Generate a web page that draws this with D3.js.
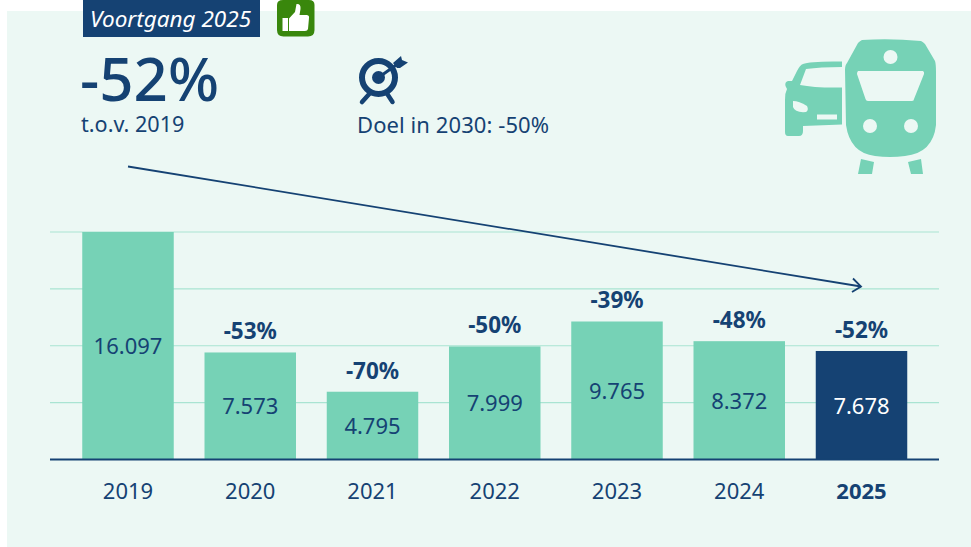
<!DOCTYPE html>
<html><head><meta charset="utf-8">
<style>html,body{margin:0;padding:0;background:#fff}svg{display:block}text{font-family:"Noto Sans",sans-serif}</style>
<script src="https://cdn.jsdelivr.net/npm/d3@7/dist/d3.min.js"></script></head>
<body><svg id="c" width="971" height="547"></svg>
<script>
const years=["2019","2020","2021","2022","2023","2024","2025"];
const values=[16097,7573,4795,7999,9765,8372,7678];
const valueLabels=["16.097","7.573","4.795","7.999","9.765","8.372","7.678"];
const changes=[null,"-53%","-70%","-50%","-39%","-48%","-52%"];
const gridTicks=[0,4024,8048,12073,16097];
const navy="#154273",mint="#76d2b6",bg="#ecf8f4",gridC="#a9e4d2";
const svg=d3.select("#c");
svg.append("rect").attr("x",7).attr("y",11).attr("width",964).attr("height",536).attr("fill",bg);
const x=d3.scalePoint().domain(years).range([128,861.5]);
const y=d3.scaleLinear().domain([0,16097]).range([459.5,232]);
const bw=91.5;
const cx=d=>x(d);
svg.append("g").selectAll("line").data(gridTicks.slice(1)).join("line")
 .attr("x1",50).attr("x2",939).attr("y1",d=>y(d)).attr("y2",d=>y(d)).attr("stroke",gridC).attr("stroke-width",1.2);
svg.append("g").selectAll("rect").data(years).join("rect")
 .attr("x",d=>cx(d)-bw/2).attr("width",bw).attr("y",(d,i)=>y(values[i])).attr("height",(d,i)=>y(0)-y(values[i]))
 .attr("fill",(d,i)=>i==6?navy:mint);
svg.append("line").attr("x1",50).attr("x2",939).attr("y1",459.5).attr("y2",459.5).attr("stroke",navy).attr("stroke-width",2);
svg.append("g").selectAll("text").data(years).join("text").attr("x",cx).attr("y",499).attr("text-anchor","middle")
 .attr("font-size",22).attr("fill",navy).attr("font-weight",(d,i)=>i==6?700:400).text(d=>d);
svg.append("g").selectAll("text").data(years).join("text").attr("x",cx)
 .attr("y",(d,i)=>(y(values[i])+y(0))/2+8.5).attr("text-anchor","middle").attr("font-size",22)
 .attr("fill",(d,i)=>i==6?"#fff":navy).text((d,i)=>valueLabels[i]);
svg.append("g").selectAll("text").data(years.slice(1)).join("text").attr("x",cx)
 .attr("y",(d,i)=>y(values[i+1])-13).attr("text-anchor","middle").attr("font-size",22.5).attr("font-weight",700)
 .attr("fill",navy).text((d,i)=>changes[i+1]);
// header
svg.append("rect").attr("x",83).attr("y",0).attr("width",177).attr("height",37).attr("fill",navy);
svg.append("text").attr("x",90).attr("y",27).attr("font-size",22.5).attr("font-style","italic").attr("fill","#fff").text("Voortgang 2025");
svg.append("text").attr("x",80).attr("y",101).attr("font-size",60).attr("font-weight",500).attr("fill",navy).text("-52%");
svg.append("text").attr("x",81).attr("y",132).attr("font-size",21.6).attr("fill",navy).text("t.o.v. 2019");
svg.append("text").attr("x",357).attr("y",133).attr("font-size",22).attr("letter-spacing",0.08).attr("fill",navy).text("Doel in 2030: -50%");
// trend arrow
svg.append("line").attr("x1",128).attr("y1",166.5).attr("x2",861).attr("y2",286.5).attr("stroke",navy).attr("stroke-width",1.8);
svg.append("path").attr("d","M853 278.5L861 286.5L852 292").attr("fill","none").attr("stroke",navy).attr("stroke-width",1.8);
// thumb icon
const th=svg.append("g");
th.append("path").attr("d","M283 0H309Q314.500 0 314.500 5V30Q314.500 36.500 308 36.500H283.500Q277 36.500 277 30V5Q277 0 283 0Z").attr("fill","#39870c");
th.append("path").attr("d","M282.500 18H288V31H282.500ZM289 18.500L295 12L296.500 4Q301 3.500 300.500 9L299.500 15H307Q309.500 15.500 309 18L308 29Q307.500 31 305 31H289Z").attr("fill","#fff");
// target icon
const tg=svg.append("g");
tg.append("circle").attr("cx",378.500).attr("cy",77.500).attr("r",16.5).attr("fill","none").attr("stroke",navy).attr("stroke-width",6);
tg.append("circle").attr("cx",378.500).attr("cy",77.500).attr("r",6.500).attr("fill",navy);
tg.append("path").attr("d","M378.500 77.500L399 63").attr("stroke",navy).attr("stroke-width",3).attr("stroke-linecap","round");
tg.append("path").attr("d","M393 63L401 56L402 60L408 62.500L400 68L397 68Z").attr("fill",navy);
tg.append("path").attr("d","M371 92L362 102M386 92L392.500 102").attr("stroke",navy).attr("stroke-width",4.500).attr("stroke-linecap","round");
// car + train icon
const ic=svg.append("g").attr("fill",mint);
ic.append("path").attr("d","M842 61.500Q810 61 803 64Q800 65 797 71L792 81H788Q784.500 82 785.500 86L787 89Q784.500 94 785 100V132Q785 136 788 136H799Q803 136 803 131V126L842 124.500V87.500Q815 88 800 85L806 69Q820 67 842 67Z");
ic.append("path").attr("d","M862 40Q890 38 921 41Q923 42 925 44L935 61Q936 64 936 72V125Q933 153 905 156Q890 158 875 156Q850 153 846 125L845 70Q845 65 847 63L858 43Q860 41 862 40Z");
ic.append("path").attr("d","M861 159L874 162L872 174H858ZM908 162L921 159L923 174H911Z");
const h=svg.append("g").attr("fill",bg);
h.append("circle").attr("cx",890.500).attr("cy",57).attr("r",7);
h.append("circle").attr("cx",870).attr("cy",126).attr("r",7);
h.append("circle").attr("cx",911).attr("cy",126).attr("r",7);
h.append("path").attr("d","M858 71H923Q924.500 72 924 74L914 99Q914 101 912 101H868Q866 101 865.500 99L857 74Q857 72 858 71Z");
h.append("path").attr("d","M793 101Q799 101 807 106Q809 110 806 112Q795 113 793 107Z");
h.append("rect").attr("x",817).attr("y",114.500).attr("width",20).attr("height",5);
</script></body></html>
